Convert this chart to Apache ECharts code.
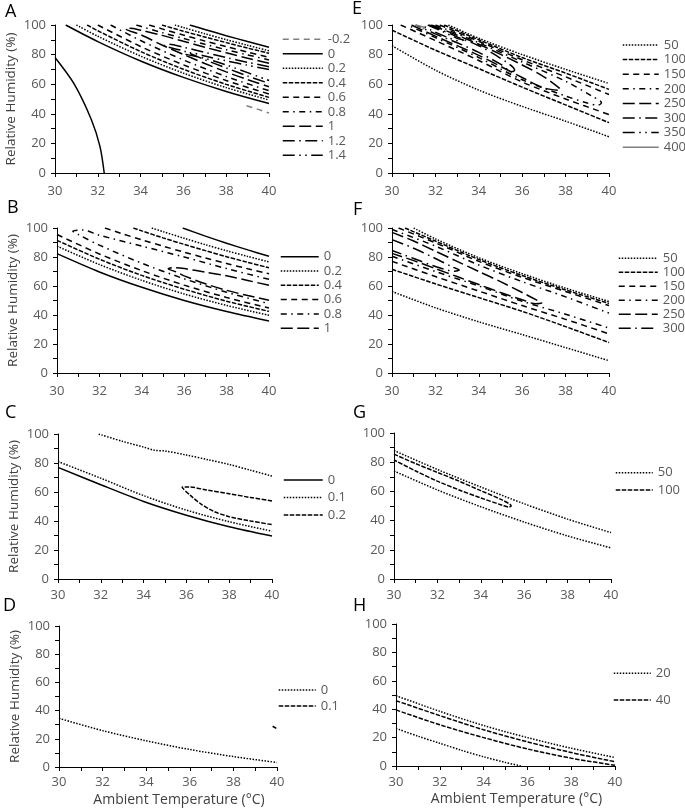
<!DOCTYPE html>
<html><head><meta charset="utf-8">
<script src="https://cdn.jsdelivr.net/npm/echarts@6/dist/echarts.min.js"></script>
<style>html,body{margin:0;padding:0;background:#fff}#c{width:685px;height:811px}</style>
</head><body><div id="c"></div>
<script>
// ---------- tick values ----------
const X_MIN = 30, X_MAX = 40, X_STEP = 2;
const Y_MIN = 0, Y_MAX = 100, Y_STEP = 20;

// ---------- Panel A ----------
const A_LEVELS = ['-0.2','0','0.2','0.4','0.6','0.8','1','1.2','1.4'];
const A_m02 = [[38.95,45.5],[39.5,43],[40,40.5]];
const A_0 = [[30,78],[30.9,60],[31.7,36],[32.1,18],[32.3,0],'-',
  [30.5,100],[32,88.8],[34,75.7],[36,64.6],[38,55.1],[40,47],'-',
  [36.3,100],[37,97],[38,92.8],[39,88.8],[40,85]];
const A_02 = [[31,100],[32,92.4],[34,79],[36,67.5],[38,57.7],[40,49.3],'-',
  [35.6,100],[36,98.3],[37,94.1],[38,90.1],[39,86.3],[40,82.6]];
const A_04 = [[31.5,100],[32,96.1],[34,82.1],[36,70.1],[38,59.9],[40,51.1],'-',
  [35,100],[36,95.8],[37,91.9],[38,88.1],[39,84.4],[40,80.9]];
const A_06 = [[32,100],[34,85.5],[36,73.1],[38,62.5],[40,53.4],'-',
  [34.4,100],[35,97.4],[36,93.2],[37,89.2],[38,85.4],[39,81.7],[40,78.2]];
const A_08 = [[32.6,100],[34,89.5],[36,76.4],[38,65.2],[40,55.6],'-',
  [33.8,100],[34,99.1],[35,94.9],[36,90.9],[37,87],[38,83.3],[39,79.8],[40,76.4]];
const A_1 = [[40,74.1],[39,77.6],[38,81.2],[37,85],[36,89],[35,93],[34,96.5],[33.5,97.8],[33.3,97.5],
  [34,93.5],[35,86.5],[36,80.1],[37,74],[38,68.3],[39,63.1],[40,58.3]];
const A_12 = [[40,71.8],[39,74.8],[38,78],[37,81.5],[36,85],[35.3,87],[35.1,86],[35.5,84.3],[36,82.5],
  [37,76.5],[38,71],[39,65.5],[40,60.6]];
const A_14 = [[40,70],[39,72.8],[38,75.8],[37,79],[36.3,81.3],[36.1,80.5],[36.5,79],[37,77.5],[38,73],[39,67.8],[40,62.5]];

// ---------- Panel B ----------
const B_LEVELS = ['0','0.2','0.4','0.6','0.8','1'];
const B_0 = [[30,82.3],[32,69.7],[34,59.1],[36,50],[38,42.4],[40,35.9],'-',
  [35.93,100],[37,94.4],[38,89.5],[39,84.9],[40,80.5]];
const B_02 = [[30,87.5],[32,74.8],[34,63.9],[36,54.5],[38,46.6],[40,39.8],'-',
  [34.47,100],[35,97.5],[36,92.9],[37,88.5],[38,84.3],[39,80.4],[40,76.6]];
const B_04 = [[30,91.5],[32,78.5],[34,67.3],[36,57.8],[38,49.5],[40,42.5],'-',
  [33.6,100],[34,98],[35,93.2],[36,88.7],[37,84.4],[38,80.2],[39,76.3],[40,72.6]];
const B_06 = [[30,95.5],[32,82.1],[34,70.6],[36,60.6],[38,52.1],[40,44.8],'-',
  [32.26,100],[33,96.4],[34,91.8],[35,87.5],[36,83.3],[37,79.3],[38,75.5],[39,71.9],[40,68.5]];
const B_08 = [[40,64.6],[38,72],[36,80],[34,87.5],[32,95],[31.2,98.6],[30.75,97.8],[31,95.5],
  [32,88.2],[34,75.7],[36,65],[38,55.7],[40,47.8]];
const B_1 = [[40,60.5],[39,63.8],[38,67],[37,69.5],[36,72],[35.5,72.6],[35.25,71.9],[35.6,69.8],
  [36,67],[37,61.5],[38,57],[39,53.4],[40,50.1]];

// ---------- Panel C ----------
const C_LEVELS = ['0','0.1','0.2'];
const C_0 = [[30,77],[32,65],[34,53.5],[36,44],[38,36],[40,29.6]];
const C_01 = [[30,81],[32,69.5],[34,57.5],[36,47.5],[38,39.5],[40,33],'-',
  [31.9,100],[33,95],[34,91],[34.5,88.8],[35,88.3],[36,85.5],[37,82.3],[38,79],[39,75],[40,71]];
const C_02 = [[40,53.8],[39,56.2],[38,58.8],[37,61.2],[36.1,63.5],[35.8,63.2],[36.2,57.5],[36.7,51.5],
  [37.3,46.5],[38,43],[39,40],[40,37.5]];

// ---------- Panel D ----------
const D_LEVELS = ['0','0.1'];
const D_0 = [[30,34.5],[32,25.8],[34,18.6],[36,12.4],[38,7.4],[40,3.2]];
const D_01 = [[39.8,28.9],[39.97,27.4]];

// ---------- Panel E ----------
const E_LEVELS = ['50','100','150','200','250','300','350','400'];
const E_50 = [[30,86],[32,69.5],[34,56],[36,45],[38,35],[40,24.5],'-',
  [32.6,100],[34,91],[36,80],[38,70],[40,60.5]];
const E_100 = [[30,96.5],[32,83],[34,70.5],[36,58],[38,46],[40,34],'-',
  [32.4,100],[34,90],[36,78],[38,67.5],[40,56.5]];
const E_150 = [[30.4,100],[32,89.5],[34,76],[36,61.5],[38,50],[40,39.5],'-',
  [32.2,100],[34,89],[36,76.5],[38,65],[40,53]];
const E_200 = [[32,100],[34,88],[36,75],[38,62],[39.2,52],[39.65,47.5],[39.5,45.8],[39,47.3],
  [38,52],[36,63],[34,78],[32,91.5],[30.7,100]];
const E_250 = [[31.8,100],[32,99],[34,87],[36,73],[37,65],[37.7,57.5],[37.75,55.8],[37,57.5],
  [36,64.5],[34,79.5],[32,92.5],[30.9,100]];
const E_300 = [[31.7,100],[32,98.5],[33,92],[34,86],[35,77.5],[35.65,69.5],[35.55,68.5],[35,73.5],
  [34,81.5],[33,88],[32,94],[31.1,100]];
const E_350 = [[31.65,100],[32.3,95.8],[33,91],[33.3,89.8],[33.1,89.2],[32.5,92],[31.8,96.5],[31.35,100]];
const E_400 = [[31.05,100],[31.35,99],[31.5,98],[31.4,97.3]];

// ---------- Panel F ----------
const F_LEVELS = ['50','100','150','200','250','300'];
const F_50 = [[30,56.2],[32,45],[34,35.3],[36,26.5],[38,17.5],[40,8.5],'-',
  [31,100],[32,92.5],[34,79.5],[36,68.5],[38,58.5],[40,49.3]];
const F_100 = [[30,71.5],[32,61.5],[34,52],[36,42.5],[38,32],[40,21],'-',
  [30.6,100],[32,91],[34,78.3],[36,67.2],[38,57.3],[40,48]];
const F_150 = [[30,77],[32,66.5],[34,56.5],[36,46.5],[38,37],[40,27],'-',
  [30.3,100],[32,89.8],[34,77],[36,66],[38,56.2],[40,46.5]];
const F_200 = [[30,80.5],[32,70],[34,60],[36,49.5],[38,40.5],[40,31],'-',
  [30,99],[32,87.5],[34,74.5],[36,63],[38,52.5],[40,41.3]];
const F_250 = [[30,97],[31,91],[32,84],[33,77],[34,70],[35,63],[36,55.5],[36.7,50],[36.9,48.3],
  [36.6,47.8],[36,50.5],[35,55.5],[34,61],[33,66.5],[32,72],[31,77.5],[30,82.5]];
const F_300 = [[30,92],[31,86],[32,79],[32.8,73],[33.1,71],[32.9,70.2],[32,73.5],[31,79],[30,84.5]];

// ---------- Panel G ----------
const G_LEVELS = ['50','100'];
const G_50 = [[30,88],[32,75],[34,63],[36,51.5],[38,41],[40,31.8],'-',
  [30,74],[32,61],[34,49.5],[36,39],[38,29.5],[40,21.3]];
const G_100 = [[30,85.5],[31,79],[32,73],[33,67],[34,60.5],[35,54],[35.4,50],[35.3,49.3],[35,50.5],
  [34,55.5],[33,61],[32,67],[31,74],[30,81.5]];

// ---------- Panel H ----------
const H_LEVELS = ['20','40'];
const H_20 = [[30,49.5],[32,38.5],[34,28.5],[36,20],[38,12.5],[40,6],'-',
  [30,26.5],[31,21],[32,16],[33,11],[34,6.5],[35,2.5],[35.7,0]];
const H_40 = [[30,46],[32,35.5],[34,25.5],[36,17],[38,9.5],[40,3],'-',
  [30,39.5],[32,29],[34,20],[36,12],[38,5.5],[40,0.5]];

// ---------- styles (not data) ----------
const DASH = {
  solid: 'solid', dot: [1.5,1.5], sysDash: [4.5,1.5], dash: [6,4.5],
  dashDot: [6,4.5,1.5,4.5], lgDash: [12,4.5], lgDashDot: [12,4.5,1.5,4.5],
  lgDashDotDot: [12,4.5,1.5,4.5,1.5,4.5]
};
const GRAY = '#7f7f7f';
const FONT = 'Open Sans';

const PANELS = [
  {key:'A', grid:[55,25,214,148], lm:12, yName:true, xName:false, title:[5,3],
   legend:[282,32.3,40,0.5], levels:A_LEVELS,
   data:[A_m02,A_0,A_02,A_04,A_06,A_08,A_1,A_12,A_14],
   styles:['dash','solid','dot','sysDash','dash','dashDot','lgDash','lgDashDot','lgDashDotDot'],
   colors:[GRAY]},
  {key:'B', grid:[57,228,212,145], lm:12, yName:true, xName:false, title:[7,199],
   legend:[280,249.7,38,0.3], levels:B_LEVELS,
   data:[B_0,B_02,B_04,B_06,B_08,B_1],
   styles:['solid','dot','sysDash','dash','dashDot','lgDash'], colors:[]},
  {key:'C', grid:[58,434,214,145], lm:10, yName:true, xName:false, title:[5,404],
   legend:[283,473,39,3.5], levels:C_LEVELS,
   data:[C_0,C_01,C_02], styles:['solid','dot','sysDash'], colors:[]},
  {key:'D', grid:[59,626,218,141], lm:9, yName:true, xName:true, title:[3,597],
   legend:[278,683,37,2], levels:D_LEVELS,
   data:[D_0,D_01], styles:['dot','sysDash'], colors:[]},
  {key:'E', grid:[392,25,217,148], lm:12, yName:false, xName:false, title:[352,0],
   legend:[622,38,36,0.6], levels:E_LEVELS,
   data:[E_50,E_100,E_150,E_200,E_250,E_300,E_350,E_400],
   styles:['dot','sysDash','dash','dashDot','lgDash','lgDashDot','lgDashDotDot','solid'],
   colors:[null,null,null,null,null,null,null,GRAY]},
  {key:'F', grid:[392,228,217,145], lm:12, yName:false, xName:false, title:[353,201],
   legend:[618,251.3,39,0], levels:F_LEVELS,
   data:[F_50,F_100,F_150,F_200,F_250,F_300],
   styles:['dot','sysDash','dash','dashDot','lgDash','lgDashDot'], colors:[]},
  {key:'G', grid:[394,433,217,146], lm:10, yName:false, xName:false, title:[353,404],
   legend:[615,465.7,37,3.3], levels:G_LEVELS,
   data:[G_50,G_100], styles:['dot','sysDash'], colors:[]},
  {key:'H', grid:[396,624,219,142], lm:10, yName:false, xName:true, title:[353,597],
   legend:[613,666.3,37,12.7], levels:H_LEVELS,
   data:[H_20,H_40], styles:['dot','sysDash'], colors:[]}
];

const axisCommon = {
  axisLine:{show:true, lineStyle:{color:'#000', width:1}},
  axisTick:{show:true, length:4, inside:false, lineStyle:{color:'#000', width:1}},
  minorTick:{show:true, splitNumber:2, length:4, lineStyle:{color:'#000', width:1}},
  splitLine:{show:false}, minorSplitLine:{show:false}
};

const option = {
  animation:false,
  backgroundColor:'#fff',
  textStyle:{fontFamily:FONT},
  title:[], grid:[], xAxis:[], yAxis:[], legend:[], series:[]
};

PANELS.forEach((p, i) => {
  option.title.push({text:p.key, left:p.title[0], top:p.title[1], padding:0,
    textStyle:{fontSize:18, fontWeight:'normal', color:'#000', fontFamily:FONT}});
  option.grid.push({left:p.grid[0], top:p.grid[1], width:p.grid[2], height:p.grid[3],
    containLabel:false, outerBoundsMode:'none'});
  option.xAxis.push(Object.assign({}, axisCommon, {
    gridIndex:i, type:'value', min:X_MIN, max:X_MAX, interval:X_STEP,
    axisLabel:{margin:p.lm, color:'#595959', fontSize:13, fontFamily:FONT, showMinLabel:true, showMaxLabel:true},
    name: p.xName ? 'Ambient Temperature (\u00B0C)' : '',
    nameLocation:'middle', nameGap:26,
    nameTextStyle:{fontSize:14, color:'#404040', fontFamily:FONT, padding:[0,0,0,22]}
  }));
  option.yAxis.push(Object.assign({}, axisCommon, {
    gridIndex:i, type:'value', min:Y_MIN, max:Y_MAX, interval:Y_STEP,
    axisLabel:{margin:9, color:'#595959', fontSize:13, fontFamily:FONT, showMinLabel:true, showMaxLabel:true},
    name: p.yName ? 'Relative Humidity (%)' : '',
    nameLocation:'middle', nameGap:37, nameRotate:90,
    nameTextStyle:{fontSize:13.5, color:'#404040', fontFamily:FONT}
  }));
  const names = [];
  p.levels.forEach((lv, j) => {
    const name = p.key + '|' + lv;
    names.push(name);
    const color = (p.colors && p.colors[j]) || '#000';
    option.series.push({
      type:'line', name, xAxisIndex:i, yAxisIndex:i, data:p.data[j],
      symbol:'none', showSymbol:false, smooth:0.3, connectNulls:false, silent:true, clip:true,
      lineStyle:{color, width:1.5, type:DASH[p.styles[j]]},
      itemStyle:{color}
    });
  });
  option.legend.push({
    data:names, orient:'vertical', left:p.legend[0], top:p.legend[1], padding:0,
    itemWidth:p.legend[2], itemHeight:14, itemGap:p.legend[3],
    selectedMode:false,
    itemStyle:{opacity:0},
    lineStyle:{width:1.5},
    formatter:(n) => n.split('|')[1],
    textStyle:{color:'#595959', fontSize:13, lineHeight:14, fontFamily:FONT}
  });
});

const chart = echarts.init(document.getElementById('c'), null, {renderer:'canvas'});
chart.setOption(option);
</script>
</body></html>
